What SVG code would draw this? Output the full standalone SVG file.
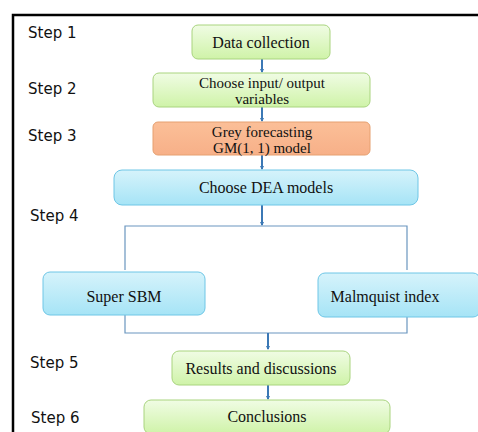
<svg xmlns="http://www.w3.org/2000/svg" width="478" height="432" viewBox="0 0 478 432">
<defs>
<linearGradient id="gGreen" x1="0" y1="0" x2="0" y2="1"><stop offset="0" stop-color="#f0fce4"/><stop offset="1" stop-color="#cff3a8"/></linearGradient>
<linearGradient id="gBlue" x1="0" y1="0" x2="0" y2="1"><stop offset="0" stop-color="#d6f3fb"/><stop offset="1" stop-color="#a6e4f6"/></linearGradient>
<linearGradient id="gOrange" x1="0" y1="0" x2="0" y2="1"><stop offset="0" stop-color="#fbbf98"/><stop offset="1" stop-color="#f7b088"/></linearGradient>
<marker id="ah" markerWidth="4" markerHeight="4" refX="3" refY="2" orient="auto" markerUnits="userSpaceOnUse"><path d="M0,0 L4,2 L0,4 z" fill="#3b78b5"/></marker>
<style>
.step{font-family:"DejaVu Sans",sans-serif;font-size:15px;fill:#111}
.lbl{font-family:"Liberation Serif",serif;font-size:16px;fill:#111;text-anchor:middle}
.sm{font-size:15px}
.green{fill:url(#gGreen);stroke:#a9d47f;stroke-width:1}
.blue{fill:url(#gBlue);stroke:#6ec6e6;stroke-width:1}
.orange{fill:url(#gOrange);stroke:#e6a070;stroke-width:1}
.arr{stroke:#3b78b5;stroke-width:2;fill:none;marker-end:url(#ah)}
.br{stroke:#6a96bf;stroke-width:1.2;fill:none}
</style>
</defs>
<rect width="478" height="432" fill="#fff"/>
<path d="M13,432 V15 H478" fill="none" stroke="#000" stroke-width="2.5"/>
<g id="steps">
<text class="step" x="28" y="38">Step 1</text>
<text class="step" x="28" y="94">Step 2</text>
<text class="step" x="28" y="141">Step 3</text>
<text class="step" x="30" y="221">Step 4</text>
<text class="step" x="30" y="368">Step 5</text>
<text class="step" x="31" y="423">Step 6</text>
</g>
<g id="connectors">
<path class="arr" d="M262,59 V72"/>
<path class="arr" d="M262,107 V121"/>
<path class="arr" d="M262,155 V169"/>
<path class="arr" d="M262,205 V225"/>
<path class="br" d="M125,270 V226 H407 V270"/>
<path class="br" d="M125,315 V333 H407 V317"/>
<path class="arr" d="M268,333 V349"/>
<path class="arr" d="M268,385 V399"/>
</g>
<g id="n1"><rect class="green" x="192" y="25" width="138" height="34" rx="6"/><text class="lbl" x="261" y="48">Data  collection</text></g>
<g id="n2"><rect class="green" x="153" y="73" width="217" height="34" rx="6"/><text class="lbl sm" x="262" y="88">Choose  input/ output</text><text class="lbl sm" x="262" y="104">variables</text></g>
<g id="n3"><rect class="orange" x="153" y="122" width="217" height="33" rx="5"/><text class="lbl sm" x="262" y="137">Grey forecasting</text><text class="lbl sm" x="262" y="153">GM(1, 1) model</text></g>
<g id="n4"><rect class="blue" x="114" y="170" width="304" height="35" rx="8"/><text class="lbl" x="266" y="193">Choose DEA models</text></g>
<g id="n5"><rect class="blue" x="43" y="272" width="162" height="43" rx="7"/><text class="lbl" x="124" y="302">Super SBM</text></g>
<g id="n6"><rect class="blue" x="318" y="273" width="162" height="44" rx="7"/><text class="lbl" x="385" y="302">Malmquist index</text></g>
<g id="n7"><rect class="green" x="172" y="351" width="178" height="34" rx="7"/><text class="lbl" x="261" y="374">Results and discussions</text></g>
<g id="n8"><rect class="green" x="144" y="400" width="246" height="34" rx="7"/><text class="lbl" x="267" y="422">Conclusions</text></g>
</svg>
